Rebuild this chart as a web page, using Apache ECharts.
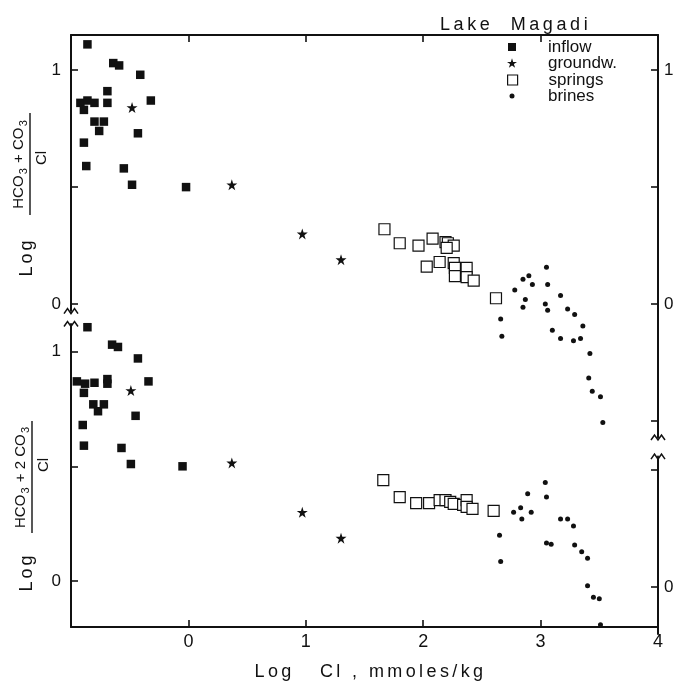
<!DOCTYPE html>
<html>
<head>
<meta charset="utf-8">
<script src="https://cdn.jsdelivr.net/npm/echarts@6/dist/echarts.min.js"></script>
<style>
  html, body { margin: 0; padding: 0; background: #fff; }
  #chart { width: 679px; height: 682px; }
</style>
</head>
<body>
<div id="chart"></div>
<script>
// ---- data: [log Cl, log ratio] ----
// upper panel: log (HCO3 + CO3)/Cl
const inflowUpper = [
  [-0.86, 1.11], [-0.64, 1.03], [-0.59, 1.02], [-0.41, 0.98], [-0.69, 0.91],
  [-0.69, 0.86], [-0.32, 0.87], [-0.92, 0.86], [-0.86, 0.87], [-0.80, 0.86],
  [-0.89, 0.83], [-0.80, 0.78], [-0.72, 0.78], [-0.76, 0.74], [-0.43, 0.73],
  [-0.89, 0.69], [-0.87, 0.59], [-0.55, 0.58], [-0.48, 0.51], [-0.02, 0.50]
];
const groundwUpper = [[-0.48, 0.84], [0.37, 0.51], [0.97, 0.30], [1.30, 0.19]];
const springsUpper = [
  [1.67, 0.32], [1.80, 0.26], [1.96, 0.25], [2.08, 0.28], [2.19, 0.265],
  [2.21, 0.26], [2.26, 0.25], [2.20, 0.24], [2.03, 0.16], [2.14, 0.18],
  [2.26, 0.175], [2.27, 0.155], [2.37, 0.155], [2.27, 0.12], [2.37, 0.115],
  [2.43, 0.10], [2.62, 0.025]
];
const brinesUpper = [
  [3.05, 0.157], [2.90, 0.121], [2.85, 0.106], [2.93, 0.084], [3.06, 0.084],
  [2.78, 0.06], [3.17, 0.037], [2.87, 0.02], [2.85, -0.013], [3.04, 0.0],
  [3.06, -0.026], [3.23, -0.021], [3.29, -0.044], [2.66, -0.064], [3.36, -0.093],
  [3.10, -0.112], [2.67, -0.137], [3.17, -0.147], [3.28, -0.157], [3.34, -0.147],
  [3.42, -0.211], [3.41, -0.316], [3.44, -0.372], [3.51, -0.396], [3.53, -0.506]
];

// lower panel: log (HCO3 + 2 CO3)/Cl
const inflowLower = [
  [-0.86, 1.106], [-0.65, 1.03], [-0.60, 1.02], [-0.43, 0.97], [-0.69, 0.88],
  [-0.69, 0.86], [-0.34, 0.87], [-0.95, 0.87], [-0.88, 0.86], [-0.80, 0.864],
  [-0.89, 0.82], [-0.81, 0.77], [-0.72, 0.77], [-0.77, 0.74], [-0.45, 0.72],
  [-0.90, 0.68], [-0.89, 0.59], [-0.57, 0.58], [-0.49, 0.51], [-0.05, 0.50]
];
const groundwLower = [[-0.49, 0.83], [0.37, 0.515], [0.97, 0.30], [1.30, 0.187]];
const springsLower = [
  [1.66, 0.44], [1.80, 0.366], [1.94, 0.34], [2.05, 0.34], [2.14, 0.353],
  [2.19, 0.353], [2.23, 0.345], [2.26, 0.336], [2.34, 0.332], [2.37, 0.353],
  [2.37, 0.323], [2.42, 0.315], [2.60, 0.306]
];
const brinesLower = [
  [2.65, 0.20], [2.66, 0.085], [2.77, 0.30], [2.83, 0.32], [2.89, 0.38],
  [2.84, 0.27], [2.92, 0.30], [3.04, 0.43], [3.05, 0.366], [3.05, 0.166],
  [3.09, 0.16], [3.17, 0.27], [3.23, 0.27], [3.28, 0.24], [3.29, 0.157],
  [3.35, 0.128], [3.40, 0.10], [3.40, -0.02], [3.45, -0.07], [3.50, -0.077],
  [3.51, -0.19]
];

// ---- axis ticks & labels ----
const xTickValues = [0, 1, 2, 3, 4];
const xLabelValues = [0, 1, 2, 3, 4];
const yTickUpperRight = [-0.5, 0, 0.5, 1];
const yTickUpperLeft = [0, 0.5, 1];
const yTickLowerLeft = [0, 0.5, 1];
const yTickLowerRight = [0, 0.5];
const yLabelValues = [0, 1];

const FONT = '"Liberation Sans", Arial, Helvetica, sans-serif';
const INK = '#111';
const STAR = 'path://M10,0 L12.245,6.91 L19.51,6.91 L13.63,11.18 L15.88,18.09 L10,13.82 L4.12,18.09 L6.37,11.18 L0.49,6.91 L7.755,6.91 Z';

// wide tracking: every character becomes a rich-text token with a right padding
function tracked(str) {
  return str.split('').map(function (c) { return '{t|' + c + '}'; }).join('');
}
function trackRich(size, gap) {
  return { t: { fontFamily: FONT, fontSize: size, color: INK, fill: INK, padding: [0, gap, 0, 0] } };
}

const chart = echarts.init(document.getElementById('chart'), null, { renderer: 'canvas' });

const GL = 71, GW = 587;
const lineStyle = { color: INK, width: 2 };
const tickStyle = { color: INK, width: 1.6 };

function yAxis(gridIndex, min, max, position, ticks, labels) {
  return {
    type: 'value', gridIndex, min, max, position,
    axisLine: { show: true, onZero: false, lineStyle },
    axisTick: { show: true, inside: true, length: 7, customValues: ticks, lineStyle: tickStyle },
    axisLabel: {
      show: labels.length > 0, customValues: labels, margin: position === 'left' ? 10 : 6,
      color: INK, fontFamily: FONT, fontSize: 17
    },
    splitLine: { show: false }
  };
}
function hiddenX(gridIndex) {
  return { type: 'value', gridIndex, min: -1, max: 4, show: false };
}

function scatter(name, data, idx, symbol, size, style) {
  return {
    type: 'scatter', name, data, xAxisIndex: idx, yAxisIndex: idx,
    symbol, symbolSize: size, itemStyle: style, z: 3,
    emphasis: { disabled: true }, silent: true
  };
}
const sInflow = { color: INK, opacity: 1 };
const sStar = { color: INK, opacity: 1 };
const sSpring = { color: '#fff', borderColor: INK, borderWidth: 1.2, opacity: 1 };
const sBrine = { color: INK, opacity: 1 };

// one legend block per entry so that each symbol keeps its own size
function legendItem(name, icon, centerY, size, style) {
  return {
    left: 512 - size / 2, top: centerY - 9, orient: 'vertical',
    itemWidth: size, itemHeight: size,
    selectedMode: false, padding: 0, itemGap: 0,
    data: [{ name, icon, itemStyle: style }],
    textStyle: {
      fontFamily: FONT, fontSize: 17, color: INK, lineHeight: 18,
      padding: [0, 0, 0, 31 - size / 2]
    }
  };
}

const option = {
  backgroundColor: '#fff',
  animation: false,
  title: {
    text: tracked('Lake') + tracked('  ') + tracked('Magadi'), left: 435, top: 11,
    textStyle: { fontFamily: FONT, fontSize: 18, fontWeight: 'normal', color: INK, rich: trackRich(18, 3.6) }
  },
  legend: [
    legendItem('inflow', 'rect', 47, 8, sInflow),
    legendItem('groundw.', STAR, 63, 10, sStar),
    legendItem('springs', 'rect', 80, 10, sSpring),
    legendItem('brines', 'circle', 96, 5, sBrine)
  ],
  grid: [
    { left: GL, width: GW, top: 35, height: 402.5 },   // upper panel (data, right axis)
    { left: GL, width: GW, top: 35, height: 276.1 },   // upper panel left axis
    { left: GL, width: GW, top: 324, height: 310.2 },  // lower panel (data, left axis)
    { left: GL, width: GW, top: 456.6, height: 177.4 } // lower panel right axis
  ],
  xAxis: [
    {
      type: 'value', gridIndex: 0, min: -1, max: 4, position: 'top',
      axisLine: { show: true, onZero: false, lineStyle },
      axisTick: { show: true, inside: true, length: 7, customValues: xTickValues, lineStyle: tickStyle },
      axisLabel: { show: false }, splitLine: { show: false }
    },
    hiddenX(1),
    {
      type: 'value', gridIndex: 2, min: -1, max: 4, position: 'bottom',
      name: tracked('Log   Cl , mmoles/kg'), nameLocation: 'middle', nameGap: 36,
      nameTextStyle: { fontFamily: FONT, fontSize: 18, color: INK, padding: [0, 0, 0, 12], rich: trackRich(18, 3.4) },
      axisLine: { show: true, onZero: false, lineStyle },
      axisTick: { show: true, inside: true, length: 7, customValues: xTickValues, lineStyle: tickStyle },
      axisLabel: { customValues: xLabelValues, margin: 6, color: INK, fontFamily: FONT, fontSize: 18 },
      splitLine: { show: false }
    },
    hiddenX(3)
  ],
  yAxis: [
    yAxis(0, -0.57, 1.15, 'right', yTickUpperRight, yLabelValues),
    yAxis(1, -0.03, 1.15, 'left', yTickUpperLeft, yLabelValues),
    yAxis(2, -0.2, 1.12, 'left', yTickLowerLeft, yLabelValues),
    yAxis(3, -0.2, 0.555, 'right', yTickLowerRight, [0])
  ],
  series: [
    scatter('inflow', inflowUpper, 0, 'rect', 8.5, sInflow),
    scatter('groundw.', groundwUpper, 0, STAR, 11, sStar),
    scatter('springs', springsUpper, 0, 'rect', 11, sSpring),
    scatter('brines', brinesUpper, 0, 'circle', 5, sBrine),
    scatter('inflow', inflowLower, 2, 'rect', 8.5, sInflow),
    scatter('groundw.', groundwLower, 2, STAR, 11, sStar),
    scatter('springs', springsLower, 2, 'rect', 11, sSpring),
    scatter('brines', brinesLower, 2, 'circle', 5, sBrine)
  ]
};
chart.setOption(option);

// rotated y-axis titles: "Log" followed by a stacked fraction
function fractionTitle(id, cx, cyLine, lineLen, numerRich, denomShift, logY) {
  return [
    {
      type: 'text', id: id + '-log', x: 27, y: logY, rotation: Math.PI / 2,
      style: {
        text: tracked('Log'), font: '18px ' + FONT, fill: INK, align: 'center', verticalAlign: 'middle',
        rich: trackRich(18, 3)
      }
    },
    {
      type: 'group', id: id + '-frac', x: cx, y: cyLine, rotation: Math.PI / 2,
      children: [
        {
          type: 'line', shape: { x1: -lineLen / 2, y1: 0, x2: lineLen / 2, y2: 0 },
          style: { stroke: INK, lineWidth: 1.4 }
        },
        {
          type: 'text', x: 0, y: -1,
          style: {
            text: numerRich, font: '15px ' + FONT, fill: INK, align: 'center', verticalAlign: 'bottom',
            lineHeight: 20,
            rich: {
              n: { fontSize: 15, fontFamily: FONT, fill: INK, padding: [0, 1.2, 0, 0] },
              s: { fontSize: 11, fontFamily: FONT, fill: INK, lineHeight: 11, verticalAlign: 'bottom', padding: [0, 1, 0, 0] }
            }
          }
        },
        {
          type: 'text', x: -denomShift, y: 4,
          style: { text: 'Cl', font: '15px ' + FONT, fill: INK, align: 'center', verticalAlign: 'top' }
        }
      ]
    }
  ];
}

// axis break marks at the ends of the interrupted frame lines
function zigzag(id, p) {
  const w = 7, h = 2.5;
  return {
    type: 'polyline', id, z: 10,
    shape: { points: [[p[0] - w, p[1] + h], [p[0] - w / 2, p[1] - h], [p[0], p[1] + h],
                      [p[0] + w / 2, p[1] - h], [p[0] + w, p[1] + h]] },
    style: { stroke: INK, lineWidth: 1.5, fill: null }
  };
}
const pUL = chart.convertToPixel({ xAxisIndex: 1, yAxisIndex: 1 }, [-1, -0.03]);
const pLL = chart.convertToPixel({ xAxisIndex: 2, yAxisIndex: 2 }, [-1, 1.12]);
const pUR = chart.convertToPixel({ xAxisIndex: 0, yAxisIndex: 0 }, [4, -0.57]);
const pLR = chart.convertToPixel({ xAxisIndex: 3, yAxisIndex: 3 }, [4, 0.555]);

function numer(parts) {
  return parts.map(function (p) { return p[1] ? '{s|' + p[0] + '}' : '{n|' + p[0] + '}'; }).join('');
}

chart.setOption({
  graphic: [
    ...fractionTitle('upper', 30, 164, 102,
      numer([['HCO'], ['3', 1], [' + CO'], ['3', 1]]), -6, 257),
    ...fractionTitle('lower', 32, 477, 112,
      numer([['HCO'], ['3', 1], [' + 2 CO'], ['3', 1]]), -12, 572),
    zigzag('brk-ul', pUL), zigzag('brk-ll', pLL), zigzag('brk-ur', pUR), zigzag('brk-lr', pLR)
  ]
});
</script>
</body>
</html>
